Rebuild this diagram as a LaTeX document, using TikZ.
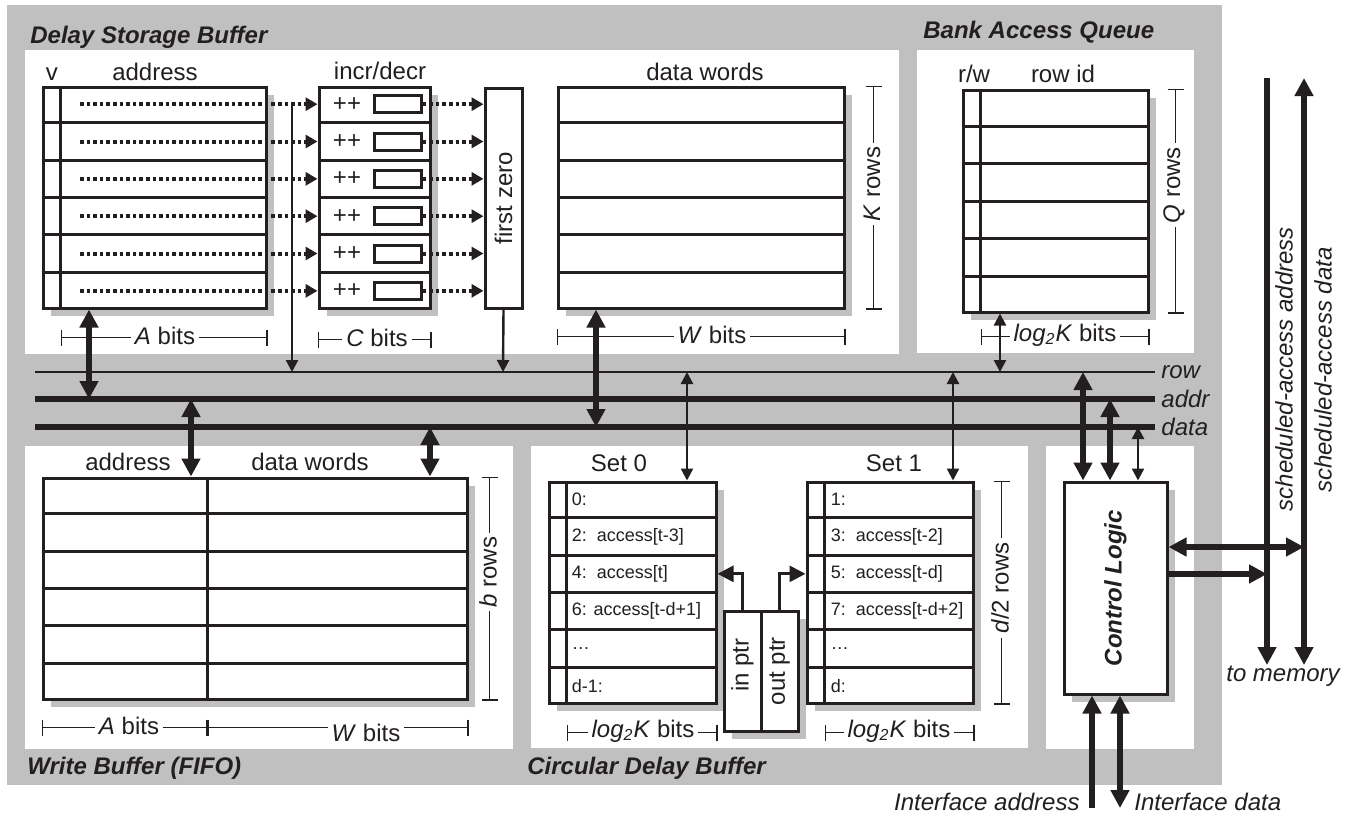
\documentclass[tikz,border=0pt,12pt]{standalone}
\usepackage{fontspec}
\setmainfont{Liberation Sans}
\usetikzlibrary{arrows.meta,positioning,calc,fit,shadows}
\definecolor{bggray}{HTML}{C0C0C0}
\definecolor{ink}{HTML}{231F20}

\tikzset{
  panel/.style={fill=white},
  title/.style={font=\bfseries\itshape, anchor=base west, inner sep=0pt},
  tbl/.style={draw=ink, line width=1.5pt, fill=white, inner sep=0pt,
    drop shadow={shadow xshift=4pt, shadow yshift=-4pt, fill=bggray, opacity=1}},
  plainbox/.style={draw=ink, line width=1.5pt, fill=white, inner sep=0pt},
  rowsep/.style={draw=ink, line width=1.5pt},
  cnt/.style={draw=ink, line width=1.5pt, minimum width=23.5pt, minimum height=8.5pt, inner sep=0pt},
  celltxt/.style={anchor=west, inner sep=0pt, font=\fontsize{9}{11}\selectfont},
  head/.style={anchor=base, inner sep=0pt},
  dimline/.style={draw=ink, line width=0.6pt, {Bar[width=8pt]}-{Bar[width=8pt]}},
  dimlbl/.style={fill=white, inner sep=2pt},
  thinbus/.style={draw=ink, line width=1.3pt},
  thickbus/.style={draw=ink, line width=3.2pt},
  buslbl/.style={anchor=west, font=\itshape, inner sep=0pt, xshift=3pt},
  bigarr/.style={draw=ink, line width=3pt, -{Triangle[length=9pt,width=9pt]}},
  bigdbl/.style={draw=ink, line width=3pt, {Triangle[length=9pt,width=9pt]}-{Triangle[length=9pt,width=9pt]}},
  thinarr/.style={draw=ink, line width=1.2pt, -{Triangle[length=6pt,width=6pt]}},
  thindbl/.style={draw=ink, line width=1.2pt, {Triangle[length=6pt,width=6pt]}-{Triangle[length=6pt,width=6pt]}},
  ptrarr/.style={draw=ink, line width=1.4pt, -{Triangle[length=8pt,width=8pt]}},
  dotarr/.style={draw=ink, line width=2pt, dash pattern=on 1.8pt off 1.5pt, -{Triangle[length=6pt,width=6.5pt]}},
}

\begin{document}
\begin{tikzpicture}[x=0.5pt, y=-0.5pt, color=ink]
\useasboundingbox (0,0) rectangle (1355,816);

% Gray frame and white panels
\fill[bggray] (7,5) rectangle (1222,785);
\fill[panel] (25,50) rectangle (899,354);
\fill[panel] (917,50) rectangle (1194,353);
\fill[panel] (25,446) rectangle (513,749);
\fill[panel] (531,446) rectangle (1028,748);
\fill[panel] (1046,446) rectangle (1194,749);

% Titles
\node[title] (tdsb) at (30,43) {Delay Storage Buffer};
\node[title] (tbaq) at (923,38) {Bank Access Queue};
\node[title] (twb) at (27,774) {Write Buffer (FIFO)};
\node[title] (tcdb) at (527,774) {Circular Delay Buffer};

% Tables
\node[tbl, fit={(43,87) (266,308)}] (dsb) {};
\node[tbl, fit={(319,87) (430,308)}] (incr) {};
\node[plainbox, fit={(485,88) (522,308)}] (fz) {};
\node[tbl, fit={(558,87) (844,308)}] (words) {};
\node[tbl, fit={(963,90) (1148,312)}] (baq) {};
\node[tbl, fit={(43,478) (467,699)}] (wbuf) {};
\node[tbl, fit={(549,482) (716,703)}] (set0) {};
\node[tbl, fit={(807,482) (973,703)}] (set1) {};
\node[tbl, fit={(724,611) (761,731)}] (inptr) {};
\node[tbl, fit={(761,611) (798,731)}] (outptr) {};
\node[tbl, fit={(1064,482) (1167,694)}] (ctrl) {};

% Rows and columns
\foreach \t in {dsb,incr,words,baq,wbuf,set0,set1}
  \foreach \k in {1,...,5}
    \draw[rowsep] ($(\t.north west)!\k/6!(\t.south west)$) -- ($(\t.north east)!\k/6!(\t.south east)$);
\foreach \t in {dsb,baq,set0,set1}
  \draw[rowsep] ([xshift=9.5pt]\t.north west) -- ([xshift=9.5pt]\t.south west);
\draw[rowsep] ([xshift=83pt]wbuf.north west) -- ([xshift=83pt]wbuf.south west);

% Headings
\node[head] (hv) at (52,80) {v};
\node[head] (hadr) at (155,80) {address};
\node[head] (hinc) at (380,79) {incr/decr};
\node[head] (hwrd) at (705,80) {data words};
\node[head] (hrw) at (974,82) {r/w};
\node[head] (hrid) at (1063,82) {row id};
\node[head] (hwadr) at (128,470) {address};
\node[head] (hwwrd) at (310,470) {data words};
\node[head] (hs0) at (619,471) {Set 0};
\node[head] (hs1) at (894,471) {Set 1};

\node[rotate=90] (fzt) at (fz.center) {first zero};
\node[rotate=90, font=\bfseries\itshape] (ctrlt) at (ctrl.center) {Control Logic};
\node[rotate=90] (ipt) at ([yshift=3pt]inptr.center) {in ptr};
\node[rotate=90] (opt) at (outptr.center) {out ptr};

% Counters and dotted paths
\coordinate (dx) at (80,0);
\foreach \k in {1,...,6}{
  \coordinate (r\k) at ($(dsb.north)!{(\k-0.5)/6}!(dsb.south)$);
  \node[cnt, xshift=11.5pt] (c\k) at (incr.center |- r\k) {};
  \node[xshift=-13.75pt] (pp\k) at (incr.center |- r\k) {++};
  \draw[dotarr] (dx |- r\k) -- (incr.west |- r\k);
  \draw[dotarr] (c\k.east) -- (fz.west |- c\k);
}

% Circular buffer entries
\foreach \k in {1,...,6}
  \coordinate (q\k) at ($(set0.north)!{(\k-0.5)/6}!(set0.south)$);
\foreach \t [count=\k] in {0:, 2:\ \ access[t-3], 4:\ \ access[t], 6: access[t-d+1], \ldots, d-1:}
  \node[celltxt, xshift=12pt] (sa\k) at (set0.west |- q\k) {\t};
\foreach \t [count=\k] in {1:, 3:\ \ access[t-2], 5:\ \ access[t-d], 7:\ \ access[t-d+2], \ldots, d:}
  \node[celltxt, xshift=12.5pt] (sb\k) at (set1.west |- q\k) {\t};
\draw[ptrarr] (inptr.north) |- (set0.east |- q3);
\draw[ptrarr] (outptr.north) |- (set1.west |- q3);

% Dimensions
\draw[dimline] ($(dsb.south west)+(19,28)$) -- ($(dsb.south east)+(0,28)$);
\node[dimlbl] (abits) at (165,336) {\textit{A} bits};
\draw[dimline] ($(incr.south west)+(0,30)$) -- ($(incr.south east)+(0,30)$);
\node[dimlbl] (cbits) at (377,338) {\textit{C} bits};
\draw[dimline] ($(words.south west)+(0,27)$) -- ($(words.south east)+(0,27)$);
\node[dimlbl] (wbits) at (712,335) {\textit{W} bits};
\draw[dimline] ($(words.north east)+(28,0)$) -- ($(words.south east)+(28,0)$);
\node[dimlbl, rotate=90] (krows) at (872,184) {\textit{K} rows};
\draw[dimline] ($(baq.south west)+(19,23)$) -- ($(baq.south east)+(0,23)$);
\node[dimlbl] (lkbits) at (1065,335) {\textit{log\textsubscript{2}K} bits};
\draw[dimline] ($(baq.north east)+(26,0)$) -- ($(baq.south east)+(26,0)$);
\node[dimlbl, rotate=90] (qrows) at (1174,185) {\textit{Q} rows};
\draw[dimline] ($(wbuf.south west)+(0,27)$) -- ($(wbuf.south west)+(166,27)$);
\node[dimlbl] (wabits) at (129,726) {\textit{A} bits};
\draw[dimline] ($(wbuf.south west)+(166,27)$) -- ($(wbuf.south east)+(0,27)$);
\node[dimlbl] (wwbits) at (366,733) {\textit{W} bits};
\draw[dimline] ($(wbuf.north east)+(21,0)$) -- ($(wbuf.south east)+(21,0)$);
\node[dimlbl, rotate=90] (brows) at (488,572) {\textit{b} rows};
\draw[dimline] ($(set0.south west)+(19,28)$) -- ($(set0.south east)+(0,28)$);
\node[dimlbl] (s0bits) at (643,731) {\textit{log\textsubscript{2}K} bits};
\draw[dimline] ($(set1.south west)+(19,28)$) -- ($(set1.south east)+(0,28)$);
\node[dimlbl] (s1bits) at (899,731) {\textit{log\textsubscript{2}K} bits};
\draw[dimline] ($(set1.north east)+(27,0)$) -- ($(set1.south east)+(27,0)$);
\node[dimlbl, rotate=90] (drows) at (1000,588) {\textit{d}/2 rows};

% Buses
\coordinate (rowW) at (35,372);  \coordinate (rowE) at (1155,372);
\coordinate (addrW) at (35,399); \coordinate (addrE) at (1155,399);
\coordinate (dataW) at (35,427); \coordinate (dataE) at (1155,427);
\draw[thinbus] (rowW) -- (rowE);
\draw[thickbus] (addrW) -- (addrE);
\draw[thickbus] (dataW) -- (dataE);
\node[buslbl] (lrow) at (rowE) {row};
\node[buslbl] (laddr) at (addrE) {addr};
\node[buslbl] (ldata) at (dataE) {data};

% Bus taps
\coordinate (t1) at (89,399);
\coordinate (t2) at (292,372);
\coordinate (t3) at (503,372);
\coordinate (t4) at (596,427);
\coordinate (t5) at (1000,372);
\coordinate (t6) at (191,399);
\coordinate (t7) at (430,427);
\coordinate (t8) at (687,372);
\coordinate (t9) at (953,372);
\coordinate (t10) at (1083,372);
\coordinate (t11) at (1110,399);
\coordinate (t12) at (1138,427);
\draw[bigdbl] (dsb.south -| t1) -- (t1);
\draw[thinarr] (t2 |- r1) -- (t2);
\draw[thinarr] (fz.south) -- (t3);
\draw[bigdbl] (words.south -| t4) -- (t4);
\draw[thindbl] (baq.south -| t5) -- (t5);
\draw[bigdbl] (t6) -- (wbuf.north -| t6);
\draw[bigdbl] (t7) -- (wbuf.north -| t7);
\draw[thindbl] (t8) -- (set0.north -| t8);
\draw[thindbl] (t9) -- (set1.north -| t9);
\draw[bigdbl] (t10) -- (ctrl.north -| t10);
\draw[bigdbl] (t11) -- (ctrl.north -| t11);
\draw[thindbl] (t12) -- (ctrl.north -| t12);

% To memory
\coordinate (saT) at (1267,78); \coordinate (saB) at (1267,665);
\coordinate (sdT) at (1304,78); \coordinate (sdB) at (1304,665);
\draw[bigarr] (saT) -- (saB);
\draw[bigdbl] (sdB) -- (sdT);
\node[rotate=90, font=\itshape] (sal) at (1284,369) {scheduled-access address};
\node[rotate=90, font=\itshape] (sdl) at (1323,370) {scheduled-access data};
\node[font=\itshape] (tomem) at (1283,676) {to memory};
\coordinate (m1) at (1304,547);
\coordinate (m2) at (1267,574);
\draw[bigdbl] (ctrl.east |- m1) -- (m1);
\draw[bigarr] (ctrl.east |- m2) -- (m2);

% Interface
\coordinate (ia) at (1092,808);
\coordinate (id) at (1120,808);
\draw[bigarr] (ia) -- (ctrl.south -| ia);
\draw[bigdbl] (id) -- (ctrl.south -| id);
\node[anchor=base east, font=\itshape, inner sep=0pt] (ial) at (1080,810) {Interface address};
\node[anchor=base west, font=\itshape, inner sep=0pt] (idl) at (1134,810) {Interface data};
\end{tikzpicture}
\end{document}
